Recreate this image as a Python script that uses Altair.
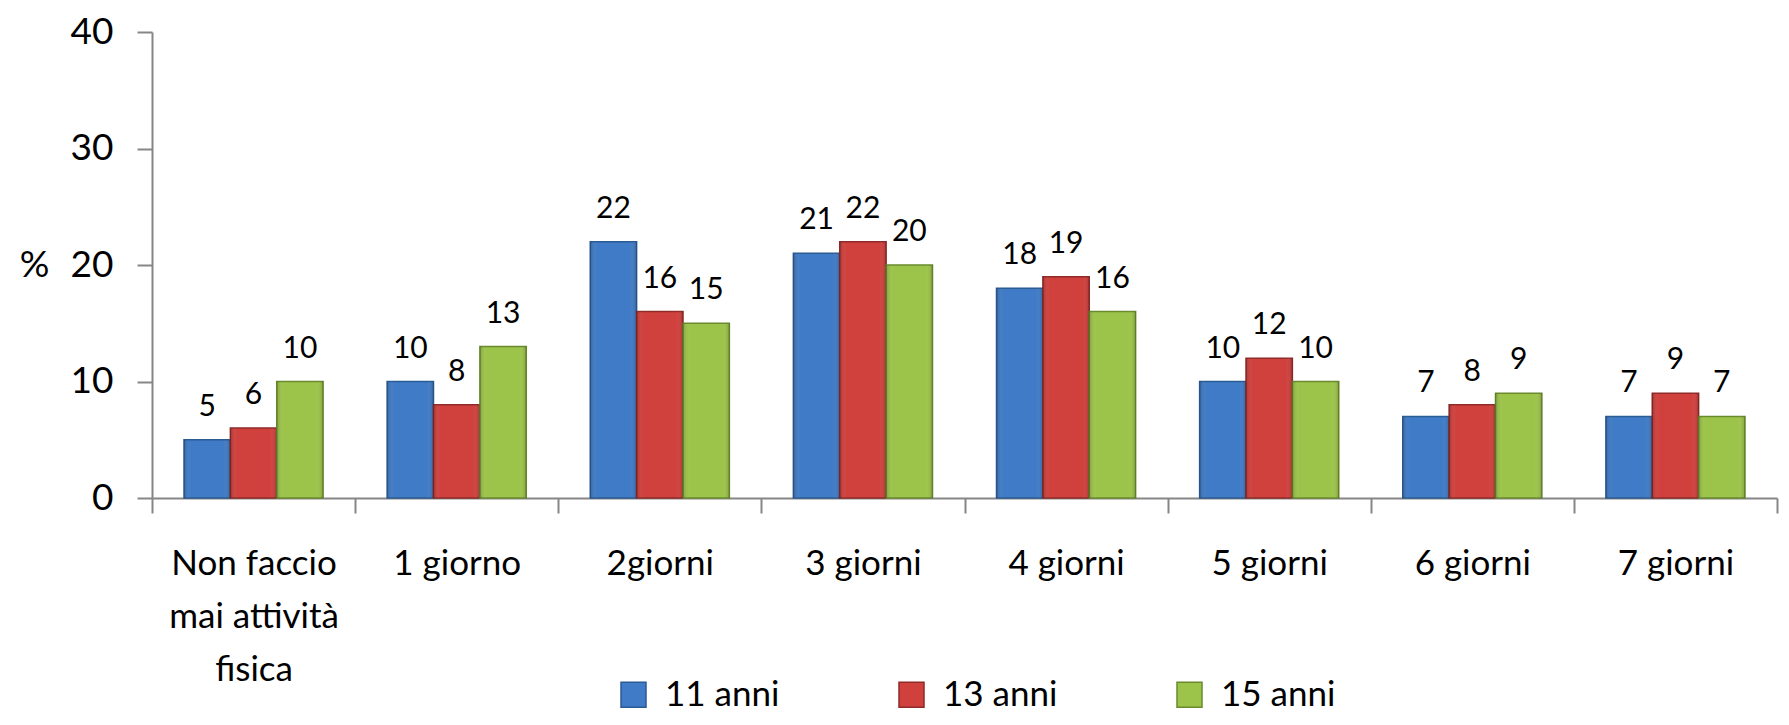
import altair as alt
import pandas as pd

categories = ["Non faccio\nmai attività\nfisica", "1 giorno", "2giorni", "3 giorni",
              "4 giorni", "5 giorni", "6 giorni", "7 giorni"]
series = ["11 anni", "13 anni", "15 anni"]
v11 = [5, 10, 22, 21, 18, 10, 7, 7]
v13 = [6, 8, 16, 22, 19, 12, 8, 9]
v15 = [10, 13, 15, 20, 16, 10, 9, 7]
y_ticks = [0, 10, 20, 30, 40]

rows = []
for s, vals in zip(series, [v11, v13, v15]):
    for c, v in zip(categories, vals):
        rows.append({"cat": c, "series": s, "value": v})
df = pd.DataFrame(rows)

FONT = "Lato"
AXC = "#868686"
fills = ["#3F7BC6", "#D0403D", "#9DC44A"]
strokes = ["#2B5B93", "#8F2B29", "#6A8A2C"]

TOP = 24
H = 466

x = alt.X("cat:N", sort=categories,
          scale=alt.Scale(paddingInner=0, paddingOuter=0),
          axis=alt.Axis(title=None, tickBand="extent", tickSize=15, tickColor=AXC, tickWidth=2,
                        domainColor=AXC, domainWidth=2, labelAngle=0, labelFont=FONT,
                        labelFontSize=35, labelColor="black", labelPadding=33,
                        labelLineHeight=53, labelBaseline="top", labelLimit=500,
                        labelOverlap=False,
                        labelExpr="split(datum.label, '\\n')"))
xo = alt.XOffset("series:N", sort=series, scale=alt.Scale(paddingOuter=0.69, paddingInner=0))
y = alt.Y("value:Q", scale=alt.Scale(domain=[0, 40]),
          axis=alt.Axis(values=y_ticks, grid=False, tickSize=15, tickColor=AXC, tickWidth=2,
                        domainColor=AXC, domainWidth=2, labelFont=FONT, labelFontSize=37,
                        labelColor="black", labelPadding=24,
                        title="%", titleAngle=0, titleFont=FONT, titleFontSize=37,
                        titleFontWeight="normal", titleColor="black",
                        titleX=-118, titleY=H / 2, titleAlign="center", titleBaseline="middle"))

base = alt.Chart(df)

bars = base.mark_bar(strokeWidth=1.5).encode(
    x=x, xOffset=xo, y=y,
    color=alt.Color("series:N", sort=series,
                    scale=alt.Scale(domain=series, range=fills),
                    legend=alt.Legend(title=None, orient="none", direction="horizontal",
                                      legendX=464, legendY=687 - TOP - 18, symbolType="square",
                                      symbolSize=625, symbolStrokeWidth=1.5,
                                      labelFont=FONT, labelFontSize=35, labelColor="black",
                                      columnPadding=114, labelOffset=14)),
    stroke=alt.Stroke("series:N", sort=series,
                      scale=alt.Scale(domain=series, range=strokes), legend=None),
)

shade = base.mark_bar(
    fill=alt.Gradient(gradient="linear", x1=0, x2=1, y1=0, y2=0,
                      stops=[alt.GradientStop(color="rgba(0,0,0,0.18)", offset=0),
                             alt.GradientStop(color="rgba(255,255,255,0.0)", offset=0.15),
                             alt.GradientStop(color="rgba(255,255,255,0.0)", offset=0.85),
                             alt.GradientStop(color="rgba(0,0,0,0.18)", offset=1)])
).encode(x=x, xOffset=xo, y=y)

labels = base.mark_text(dy=-18, baseline="bottom", font=FONT, fontSize=30, color="black").encode(
    x=x, xOffset=xo, y=y, text=alt.Text("value:Q"))

chart = alt.layer(bars, shade, labels).properties(
    width=1625, height=H,
    autosize=alt.AutoSizeParams(type="none"),
    padding={"left": 144, "top": TOP, "right": 4, "bottom": 709 - TOP - H},
).configure_view(stroke=None).configure_legend(symbolStrokeColor=None)

chart.save("out.html", embed_options={"renderer": "svg", "actions": False})
